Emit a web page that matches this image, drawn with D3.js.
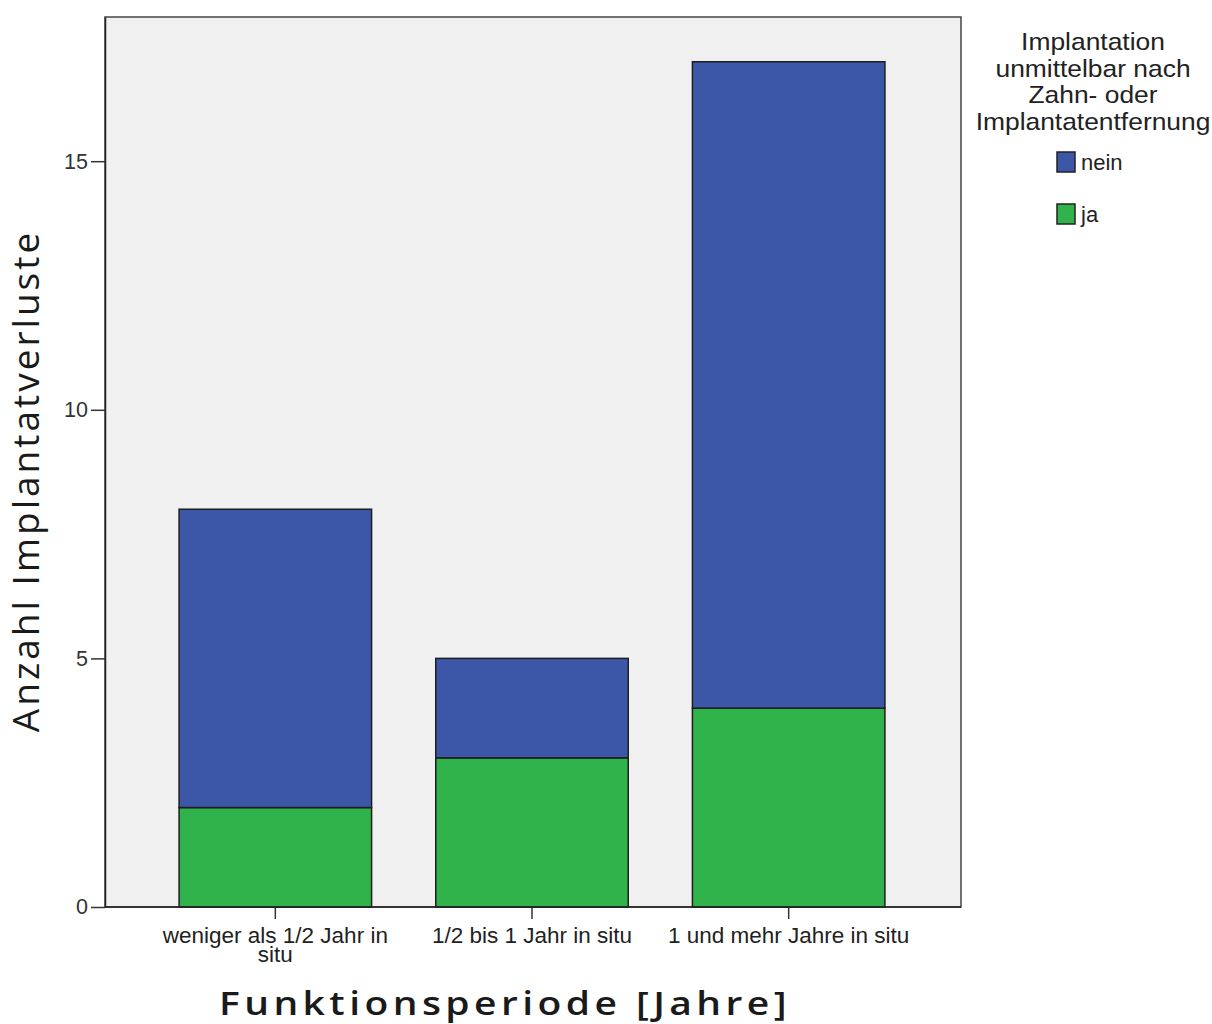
<!DOCTYPE html>
<html><head><meta charset="utf-8">
<script src="https://cdn.jsdelivr.net/npm/d3@7"></script>
<style>body{margin:0;background:#fff}</style>
</head><body>
<svg id="c" width="1212" height="1024"></svg>
<script>
const categories = [["weniger als 1/2 Jahr in", "situ"], ["1/2 bis 1 Jahr in situ"], ["1 und mehr Jahre in situ"]];
const seriesNames = ["ja", "nein"];
const jaValues = [2, 3, 4];
const neinValues = [6, 2, 13];
const yTicks = [0, 5, 10, 15];
const colors = {"nein": "#3c56a8", "ja": "#2fb34a"};

const svg = d3.select("#c");
const x0 = 105, x1 = 961, yTop = 17, yBot = 907;
const keys = categories.map(c => c.join(" "));
const x = d3.scaleBand().domain(keys).range([147, 917]).paddingInner(0.25).paddingOuter(0.125);
const y = d3.scaleLinear().domain([0, 17.9]).range([yBot, yTop]);

svg.append("rect").attr("x", x0).attr("y", yTop).attr("width", x1 - x0).attr("height", yBot - yTop)
  .attr("fill", "#f0f0f0").attr("stroke", "#444").attr("stroke-width", 1.5);

const data = keys.map((k, i) => ({key: k, ja: jaValues[i], nein: neinValues[i]}));
const stacked = d3.stack().keys(seriesNames)(data);
svg.append("g").selectAll("g").data(stacked).join("g")
  .attr("fill", d => colors[d.key])
  .selectAll("rect").data(d => d).join("rect")
  .attr("x", d => x(d.data.key)).attr("width", x.bandwidth())
  .attr("y", d => y(d[1])).attr("height", d => y(d[0]) - y(d[1]))
  .attr("stroke", "#1e1e1e").attr("stroke-width", 1.5);

// Y axis
const ya = svg.append("g").attr("transform", `translate(${x0},0)`)
  .call(d3.axisLeft(y).tickValues(yTicks).tickSizeInner(14).tickSizeOuter(0).tickPadding(3));
ya.select(".domain").attr("stroke", "#222").attr("stroke-width", 1.5);
ya.selectAll(".tick line").attr("stroke", "#333").attr("stroke-width", 1.5);
ya.selectAll(".tick text").attr("font-family", "Liberation Sans, Arial, sans-serif").attr("font-size", 21.5).attr("fill", "#333");

// X axis
const xa = svg.append("g").attr("transform", `translate(0,${yBot})`)
  .call(d3.axisBottom(x).tickSizeInner(12).tickSizeOuter(0).tickFormat(""));
xa.select(".domain").remove();
xa.selectAll(".tick line").attr("stroke", "#333").attr("stroke-width", 1.5);
xa.selectAll(".tick").each(function(d, i) {
  const t = d3.select(this).append("text").attr("fill", "#222").attr("text-anchor", "middle")
    .attr("font-family", "Liberation Sans, Arial, sans-serif").attr("font-size", 22.5);
  categories[i].forEach((line, j) => t.append("tspan").attr("x", 0).attr("y", 36 + j * 19).text(line));
});
svg.append("line").attr("x1", x0).attr("x2", x1).attr("y1", yBot).attr("y2", yBot).attr("stroke", "#222").attr("stroke-width", 1.5);

// Axis titles
svg.append("text").attr("transform", "translate(505,1015) scale(1.2,1)").attr("text-anchor", "middle")
  .attr("font-family", "Open Sans, Lato, sans-serif").attr("font-size", 32.5).attr("font-weight", 600)
  .attr("letter-spacing", 3.7).attr("fill", "#1a1a1a")
  .text("Funktionsperiode [Jahre]");
svg.append("text").attr("transform", "translate(39,481) rotate(-90)").attr("text-anchor", "middle")
  .attr("font-family", "Open Sans, Lato, sans-serif").attr("font-size", 37).attr("letter-spacing", 3).attr("fill", "#1a1a1a")
  .text("Anzahl Implantatverluste");

// Legend
const legendTitle = ["Implantation", "unmittelbar nach", "Zahn- oder", "Implantatentfernung"];
const lg = svg.append("g");
lg.selectAll("text.t").data(legendTitle).join("text").attr("class", "t")
  .attr("transform", (d, i) => `translate(1093,${50 + i * 26.7}) scale(1.1,1)`).attr("text-anchor", "middle")
  .attr("font-family", "Liberation Sans, Arial, sans-serif").attr("font-size", 24).attr("fill", "#222")
  .text(d => d);
const legendItems = ["nein", "ja"];
legendItems.forEach((k, i) => {
  const yy = 152 + i * 52;
  lg.append("rect").attr("x", 1057).attr("y", yy).attr("width", 18).attr("height", 20)
    .attr("fill", colors[k]).attr("stroke", "#222").attr("stroke-width", 1.5);
  lg.append("text").attr("x", 1081).attr("y", yy + 18).attr("font-family", "Liberation Sans, Arial, sans-serif")
    .attr("font-size", 22).attr("fill", "#222").text(k);
});
</script>
</body></html>
